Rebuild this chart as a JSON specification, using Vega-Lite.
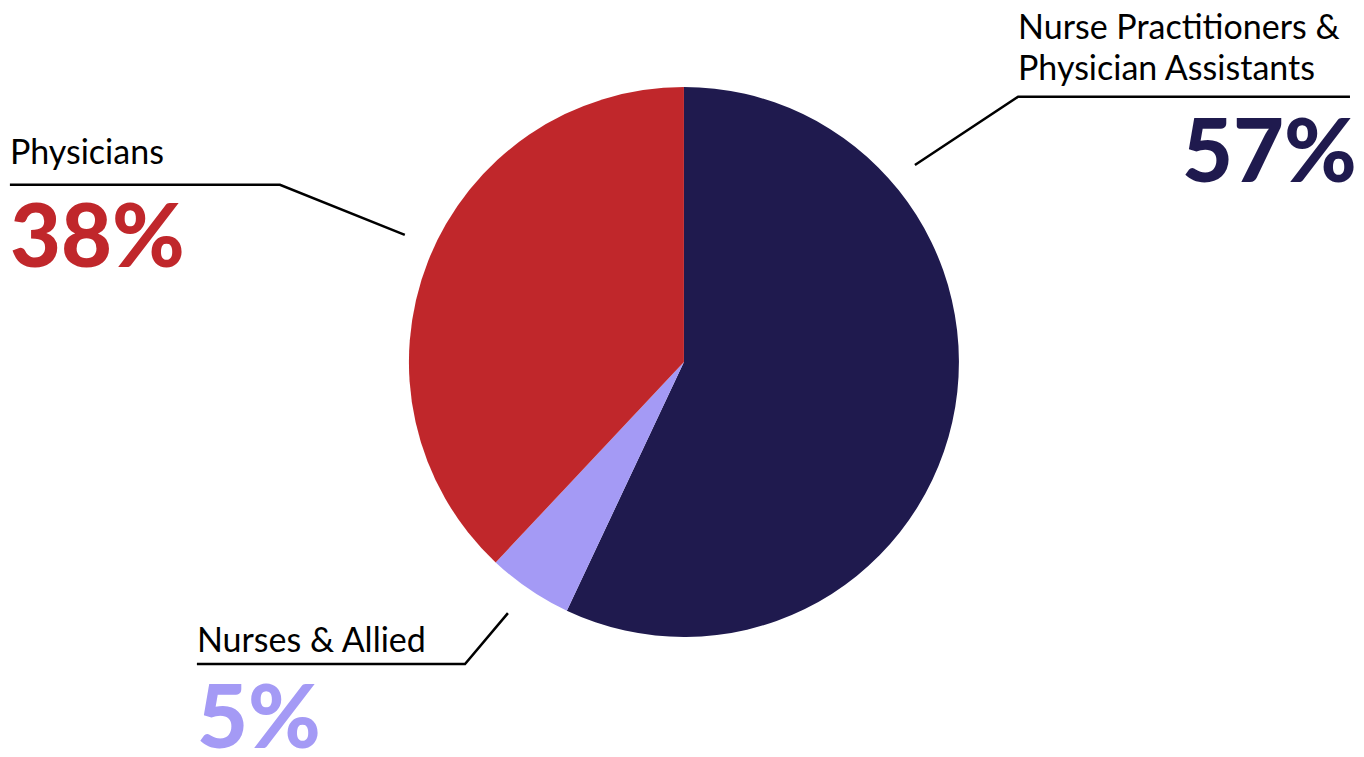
{
  "$schema": "https://vega.github.io/schema/vega-lite/v6.json",
  "width": 1364,
  "height": 757,
  "autosize": {"type": "none"},
  "padding": 0,
  "background": "white",
  "config": {"view": {"stroke": null}},
  "datasets": {
    "slices": [
      {"group": "Nurse Practitioners & Physician Assistants", "share": 57, "rank": 1},
      {"group": "Nurses & Allied", "share": 5, "rank": 2},
      {"group": "Physicians", "share": 38, "rank": 3}
    ],
    "leaders": [
      {"id": "np", "pt": 1, "lx": 0.84, "ly": 0.716},
      {"id": "np", "pt": 2, "lx": 1.215, "ly": 0.964},
      {"id": "np", "pt": 3, "lx": 2.422, "ly": 0.964},
      {"id": "ph", "pt": 1, "lx": -1.015, "ly": 0.462},
      {"id": "ph", "pt": 2, "lx": -1.469, "ly": 0.644},
      {"id": "ph", "pt": 3, "lx": -2.451, "ly": 0.644},
      {"id": "nu", "pt": 1, "lx": -0.64, "ly": -0.913},
      {"id": "nu", "pt": 2, "lx": -0.796, "ly": -1.098},
      {"id": "nu", "pt": 3, "lx": -1.771, "ly": -1.098}
    ],
    "names": [
      {"text": "Nurse Practitioners &", "lx": 1.215, "ly": 1.175},
      {"text": "Physician Assistants", "lx": 1.215, "ly": 1.025},
      {"text": "Physicians", "lx": -2.451, "ly": 0.72},
      {"text": "Nurses & Allied", "lx": -1.771, "ly": -1.055}
    ],
    "pcts": [
      {"group": "Nurse Practitioners & Physician Assistants", "text": "57%", "lx": 1.811, "ly": 0.655},
      {"group": "Physicians", "text": "38%", "lx": -2.451, "ly": 0.345},
      {"group": "Nurses & Allied", "text": "5%", "lx": -1.771, "ly": -1.405}
    ]
  },
  "layer": [
    {
      "data": {"name": "slices"},
      "mark": {"type": "arc", "outerRadius": 275, "stroke": null},
      "encoding": {
        "theta": {"field": "share", "type": "quantitative", "stack": true},
        "order": {"field": "rank", "type": "quantitative"},
        "color": {
          "field": "group", "type": "nominal", "legend": null,
          "scale": {
            "domain": ["Nurse Practitioners & Physician Assistants", "Nurses & Allied", "Physicians"],
            "range": ["#1f1a4e", "#a49af5", "#c0272b"]
          }
        },
        "x": {"datum": 0, "type": "quantitative", "scale": {"domain": [-2.487, 2.473], "nice": false, "zero": false}, "axis": null},
        "y": {"datum": 0, "type": "quantitative", "scale": {"domain": [-1.436, 1.316], "nice": false, "zero": false}, "axis": null}
      }
    },
    {
      "data": {"name": "leaders"},
      "mark": {"type": "line", "color": "black", "strokeWidth": 2.5, "strokeJoin": "miter", "strokeCap": "butt"},
      "encoding": {
        "x": {"field": "lx", "type": "quantitative"},
        "y": {"field": "ly", "type": "quantitative"},
        "detail": {"field": "id"},
        "order": {"field": "pt", "type": "quantitative"}
      }
    },
    {
      "data": {"name": "names"},
      "mark": {"type": "text", "align": "left", "baseline": "alphabetic", "font": "Lato", "fontSize": 34, "color": "black"},
      "encoding": {
        "x": {"field": "lx", "type": "quantitative"},
        "y": {"field": "ly", "type": "quantitative"},
        "text": {"field": "text"}
      }
    },
    {
      "data": {"name": "pcts"},
      "mark": {"type": "text", "align": "left", "baseline": "alphabetic", "font": "Lato", "fontSize": 88, "fontWeight": 900},
      "encoding": {
        "x": {"field": "lx", "type": "quantitative"},
        "y": {"field": "ly", "type": "quantitative"},
        "text": {"field": "text"},
        "color": {"field": "group", "type": "nominal", "legend": null}
      }
    }
  ]
}
